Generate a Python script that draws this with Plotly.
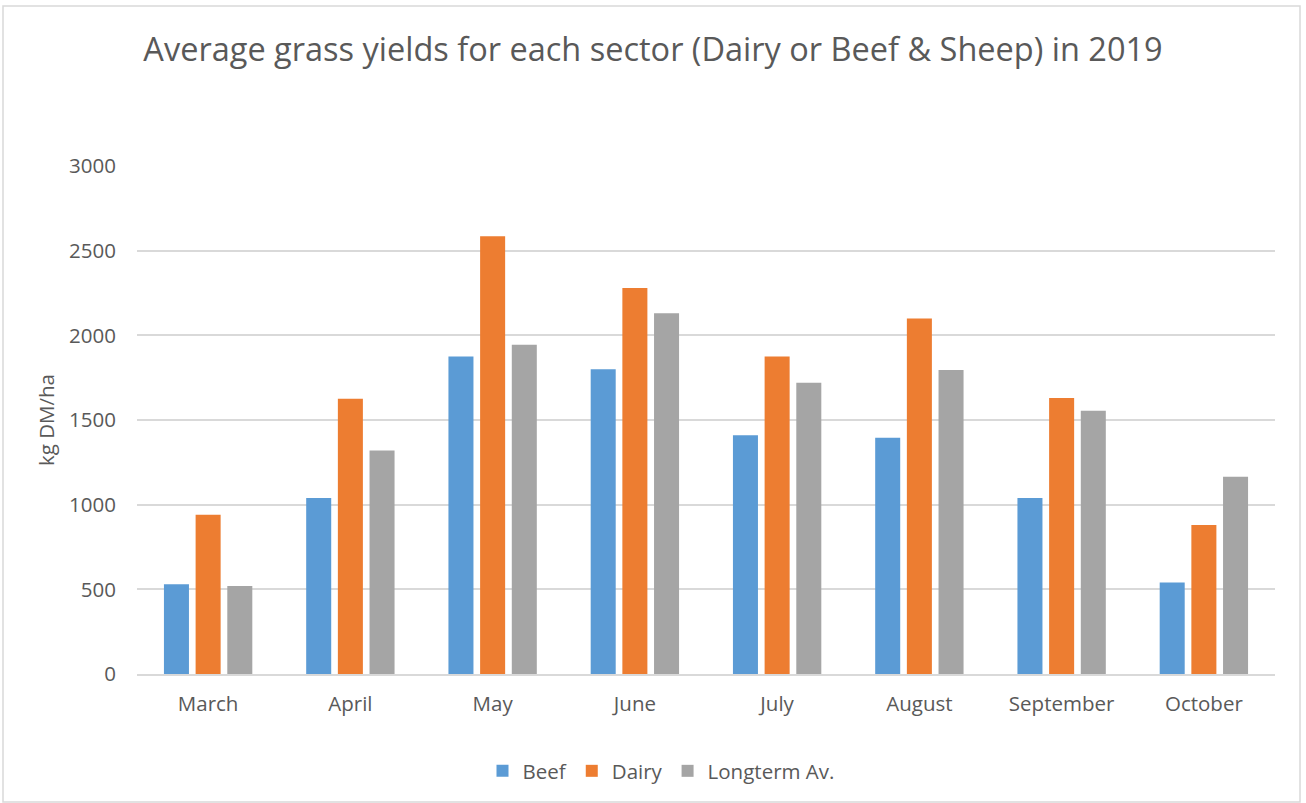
import plotly.graph_objects as go

months = ["March", "April", "May", "June", "July", "August", "September", "October"]
beef = [530, 1040, 1875, 1800, 1410, 1395, 1040, 540]
dairy = [940, 1625, 2585, 2280, 1875, 2100, 1630, 880]
longterm = [520, 1320, 1945, 2130, 1720, 1795, 1555, 1165]

series_names = ["Beef", "Dairy", "Longterm Av."]
series_colors = ["#5B9BD5", "#ED7D31", "#A5A5A5"]

FONT = "Open Sans"
TXT = "#595959"
FS = 20.5

fig = go.Figure()
for name, vals, col in zip(series_names, [beef, dairy, longterm], series_colors):
    fig.add_trace(go.Bar(x=months, y=vals, name=name, marker=dict(color=col, line=dict(width=0))))

W, H = 1306, 803
L, R, T, B = 137, 31, 166, 129
pw, ph = W - L - R, H - T - B

fig.update_layout(
    width=W, height=H,
    margin=dict(l=L, r=R, t=T, b=B),
    paper_bgcolor="white", plot_bgcolor="white",
    barmode="group", bargap=0.332, bargroupgap=0.21,
    font=dict(family=FONT, color=TXT, size=FS),
    title=dict(text="Average grass yields for each sector (Dairy or Beef & Sheep) in 2019",
               x=0.5, xanchor="center", y=1 - 50 / H, yanchor="middle",
               font=dict(family=FONT, size=32.5, color=TXT)),
    legend=dict(orientation="h", x=0.5 + (661 - (L + pw / 2)) / pw, xanchor="center",
                y=(674 - 771) / ph, yanchor="middle",
                font=dict(family=FONT, size=FS, color=TXT),
                itemwidth=30, traceorder="normal"),
    xaxis=dict(showgrid=False, showline=True, linecolor="#D9D9D9", linewidth=1.5,
               ticks="", ticklabelstandoff=11, tickfont=dict(size=FS, color=TXT)),
    yaxis=dict(range=[0, 3000], tickvals=[0, 500, 1000, 1500, 2000, 2500, 3000],
               showgrid=True, gridcolor="#D9D9D9", gridwidth=1.5, zeroline=False,
               showline=False, ticks="", ticklabelstandoff=20,
               tickfont=dict(size=FS, color=TXT),
               title=dict(text="kg DM/ha", font=dict(size=FS, color=TXT), standoff=8)),
    shapes=[dict(type="rect", xref="paper", yref="paper",
                 x0=(3 - L) / pw, x1=(1300 - L) / pw,
                 y0=(674 - 802) / ph, y1=(674 - 6) / ph,
                 line=dict(color="#D9D9D9", width=1.5), fillcolor="rgba(0,0,0,0)", layer="below")],
)

fig.write_html("out.html")
